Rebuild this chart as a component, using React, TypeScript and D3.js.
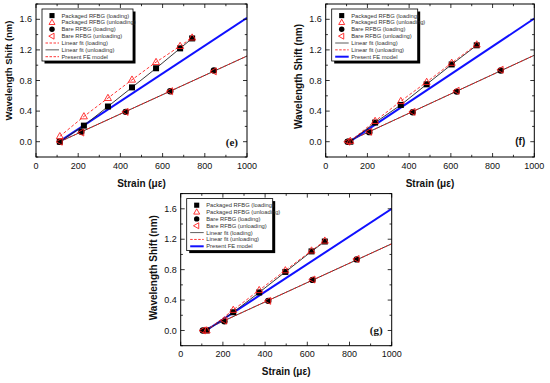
import React from 'react';
import * as d3 from 'd3';

// axis ticks shared by the three panels
const strainTicks = [0, 200, 400, 600, 800, 1000];
const shiftTicks = [0.0, 0.4, 0.8, 1.2, 1.6];

// panel (e)
const eStrainPkg = [113, 227, 341, 455, 569, 683, 740];
const ePkgLoad = [0, 0.21, 0.46, 0.71, 0.96, 1.22, 1.35];
const ePkgUnload = [0.07, 0.33, 0.57, 0.81, 1.04, 1.25, 1.36];
const eStrainBare = [113, 215, 425, 636, 843];
const eBareLoad = [0, 0.13, 0.39, 0.66, 0.93];
const eBareUnload = [0, 0.12, 0.39, 0.66, 0.92];
const eFitStrain = [113, 1000];
const eBareFit = [0, 1.12];
const eFeStrain = [110, 1000];
const eFe = [0, 1.62];

// panel (f)
const fStrainPkg = [118, 237, 360, 484, 604, 724];
const fPkgLoad = [0, 0.25, 0.48, 0.75, 1.01, 1.26];
const fPkgUnload = [0.01, 0.27, 0.53, 0.78, 1.03, 1.27];
const fStrainBare = [105, 209, 417, 628, 839];
const fBareLoad = [0, 0.125, 0.385, 0.655, 0.93];
const fBareUnload = [0, 0.13, 0.39, 0.665, 0.94];
const fFitStrain = [105, 1000];
const fBareFit = [0, 1.13];
const fFeStrain = [115, 1000];
const fFe = [0, 1.61];

// panel (g)
const gStrainPkg = [123, 249, 372, 496, 620, 683];
const gPkgLoad = [0, 0.24, 0.5, 0.77, 1.04, 1.17];
const gPkgUnload = [0, 0.27, 0.53, 0.79, 1.05, 1.18];
const gStrainBare = [105, 207, 415, 625, 834];
const gBareLoad = [0, 0.12, 0.39, 0.665, 0.935];
const gBareUnload = [0, 0.13, 0.39, 0.67, 0.94];
const gFitStrain = [105, 1000];
const gBareFit = [0, 1.14];
const gFeStrain = [120, 1000];
const gFe = [0, 1.6];

const legendNames = [
  'Packaged RFBG (loading)',
  'Packaged RFBG (unloading)',
  'Bare RFBG (loading)',
  'Bare RFBG (unloading)',
  'Linear fit (loading)',
  'Linear fit (unloading)',
  'Present FE model',
];

const SANS = '"Liberation Sans", Arial, sans-serif';
const SERIF = '"Liberation Serif", "Times New Roman", serif';
const RED = '#ff2020';
const BLUE = '#1010ff';

const zip = (xs, ys) => xs.map((v, i) => [v, ys[i]]);

function Marker({ kind, x, y, s = 1 }) {
  if (kind === 'square') {
    const h = 3 * s;
    return <rect x={x - h} y={y - h} width={2 * h} height={2 * h} fill="#000" />;
  }
  if (kind === 'circle') {
    return <circle cx={x} cy={y} r={3.2 * s} fill="#000" />;
  }
  if (kind === 'tri') {
    return <path d={`M${x},${y - 3.8 * s}L${x + 3.5 * s},${y + 2.4 * s}L${x - 3.5 * s},${y + 2.4 * s}Z`} fill="none" stroke={RED} strokeWidth={0.9} />;
  }
  // left pointing triangle
  return <path d={`M${x - 3.8 * s},${y}L${x + 2.4 * s},${y - 3.5 * s}L${x + 2.4 * s},${y + 3.5 * s}Z`} fill="none" stroke={RED} strokeWidth={0.9} />;
}

function LineSample({ style, x1, x2, y }) {
  if (style === 'black') return <line x1={x1} x2={x2} y1={y} y2={y} stroke="#333" strokeWidth={0.8} />;
  if (style === 'red') return <line x1={x1} x2={x2} y1={y} y2={y} stroke={RED} strokeWidth={0.9} strokeDasharray="2.5,1.5" />;
  return <line x1={x1} x2={x2} y1={y} y2={y} stroke={BLUE} strokeWidth={2} />;
}

function Panel({ frame, d, label, labelFont, legendW, legendLines, titleSize, titleShift }) {
  const [x0, x1, y0, y1] = frame;
  const x = d3.scaleLinear().domain([0, 1000]).range([x0, x1]);
  const y = d3.scaleLinear().domain([-0.2, 1.8]).range([y1, y0]);
  const line = d3.line().x(p => x(p[0])).y(p => y(p[1]));

  const minorX = d3.range(0, 1001, 100);
  const minorY = d3.range(-0.2, 1.81, 0.2);

  const pkgLoad = zip(d.strainPkg, d.pkgLoad);
  const pkgUnload = zip(d.strainPkg, d.pkgUnload);
  const bareLoad = zip(d.strainBare, d.bareLoad);
  const bareUnload = zip(d.strainBare, d.bareUnload);
  const bareFit = zip(d.fitStrain, d.bareFit);
  const fe = zip(d.feStrain, d.fe);

  const lx = x0 + 6;
  const ly = y0 + 5;
  const lh = 52;
  const rowY = i => ly + 6.6 + i * 6.85;
  const markers = ['square', 'tri', 'circle', 'ltri'];

  return (
    <g>
      <clipPath id={`clip-${label}`}>
        <rect x={x0} y={y0} width={x1 - x0} height={y1 - y0} />
      </clipPath>

      <g clipPath={`url(#clip-${label})`}>
        {/* bare RFBG fit */}
        <path d={line(bareFit)} fill="none" stroke="#222" strokeWidth={0.9} />
        <path d={line(bareFit)} fill="none" stroke={RED} strokeWidth={0.9} strokeDasharray="3,2" />
        {/* FE model */}
        <path d={line(fe)} fill="none" stroke={BLUE} strokeWidth={2} />
        {/* packaged lines */}
        <path d={line(pkgLoad)} fill="none" stroke="#222" strokeWidth={0.9} />
        <path d={line(pkgUnload)} fill="none" stroke={RED} strokeWidth={0.9} strokeDasharray="3,2" />

        {pkgLoad.map((p, i) => <Marker key={'a' + i} kind="square" x={x(p[0])} y={y(p[1])} />)}
        {bareLoad.map((p, i) => <Marker key={'b' + i} kind="circle" x={x(p[0])} y={y(p[1])} />)}
        {pkgUnload.map((p, i) => <Marker key={'c' + i} kind="tri" x={x(p[0])} y={y(p[1])} />)}
        {bareUnload.map((p, i) => <Marker key={'d' + i} kind="ltri" x={x(p[0])} y={y(p[1])} />)}
      </g>

      {/* frame */}
      <rect x={x0} y={y0} width={x1 - x0} height={y1 - y0} fill="none" stroke="#000" strokeWidth={1} />

      {/* ticks, inward on all sides */}
      {minorX.map(v => {
        const len = strainTicks.includes(v) ? 4 : 2.2;
        return (
          <g key={'tx' + v}>
            <line x1={x(v)} x2={x(v)} y1={y1} y2={y1 - len} stroke="#000" strokeWidth={0.8} />
            <line x1={x(v)} x2={x(v)} y1={y0} y2={y0 + len} stroke="#000" strokeWidth={0.8} />
          </g>
        );
      })}
      {minorY.map(v => {
        const major = shiftTicks.some(t => Math.abs(t - v) < 1e-6);
        const len = major ? 4 : 2.2;
        return (
          <g key={'ty' + v.toFixed(1)}>
            <line x1={x0} x2={x0 + len} y1={y(v)} y2={y(v)} stroke="#000" strokeWidth={0.8} />
            <line x1={x1} x2={x1 - len} y1={y(v)} y2={y(v)} stroke="#000" strokeWidth={0.8} />
          </g>
        );
      })}

      {strainTicks.map(v => (
        <text key={'lx' + v} x={x(v)} y={y1 + 8.5} dy="0.35em" textAnchor="middle" fontFamily={SANS} fontSize={9} fill="#111">
          {v}
        </text>
      ))}
      {shiftTicks.map(v => (
        <text key={'ly' + v} x={x0 - 4} y={y(v)} dy="0.35em" textAnchor="end" fontFamily={SANS} fontSize={9} fill="#111">
          {v.toFixed(1)}
        </text>
      ))}

      <text x={(x0 + x1) / 2} y={y1 + 26} dy="0.35em" textAnchor="middle" fontFamily={SANS} fontSize={10} fontWeight="bold" fill="#111">
        Strain (με)
      </text>
      <text
        transform={`translate(${x0 - 27},${(y0 + y1) / 2 + titleShift}) rotate(-90)`}
        dy="0.35em"
        textAnchor="middle"
        fontFamily={SANS}
        fontSize={titleSize}
        fontWeight="bold"
        fill="#111"
      >
        Wavelength Shift (nm)
      </text>

      <text x={x1 - 9} y={y(0)} dy="0.35em" textAnchor="end" fontFamily={labelFont === 'serif' ? SERIF : SANS} fontSize={labelFont === 'serif' ? 11 : 10} fontWeight="bold" fill="#111">
        ({label})
      </text>

      {/* legend */}
      <rect x={lx + 2.5} y={ly + 2.5} width={legendW} height={lh} fill="#000" />
      <rect x={lx} y={ly} width={legendW} height={lh} fill="#fff" stroke="#000" strokeWidth={0.8} />
      {legendNames.map((name, i) => (
        <g key={name}>
          {i < 4 ? (
            <Marker kind={markers[i]} x={lx + 10} y={rowY(i)} s={0.85} />
          ) : (
            <LineSample style={legendLines[i - 4]} x1={lx + 3.5} x2={lx + 17} y={rowY(i)} />
          )}
          <text x={lx + 19.5} y={rowY(i)} dy="0.35em" fontFamily={SANS} fontSize={5.8} fill="#333">
            {name}
          </text>
        </g>
      ))}
    </g>
  );
}

export default function App() {
  const eData = {
    strainPkg: eStrainPkg, pkgLoad: ePkgLoad, pkgUnload: ePkgUnload,
    strainBare: eStrainBare, bareLoad: eBareLoad, bareUnload: eBareUnload,
    fitStrain: eFitStrain, bareFit: eBareFit, feStrain: eFeStrain, fe: eFe,
  };
  const fData = {
    strainPkg: fStrainPkg, pkgLoad: fPkgLoad, pkgUnload: fPkgUnload,
    strainBare: fStrainBare, bareLoad: fBareLoad, bareUnload: fBareUnload,
    fitStrain: fFitStrain, bareFit: fBareFit, feStrain: fFeStrain, fe: fFe,
  };
  const gData = {
    strainPkg: gStrainPkg, pkgLoad: gPkgLoad, pkgUnload: gPkgUnload,
    strainBare: gStrainBare, bareLoad: gBareLoad, bareUnload: gBareUnload,
    fitStrain: gFitStrain, bareFit: gBareFit, feStrain: gFeStrain, fe: gFe,
  };

  return (
    <div style={{ position: 'fixed', left: 0, top: 0 }}>
      <svg width={550} height={383} style={{ display: 'block', background: '#fff' }}>
        <Panel frame={[36, 247, 4, 157]} d={eData} label="e" labelFont="serif" legendW={91} legendLines={['red', 'black', 'red']} titleSize={9.5} titleShift={-10} />
        <Panel frame={[325.7, 534.3, 4, 157]} d={fData} label="f" labelFont="sans" legendW={86} legendLines={['black', 'red', 'blue']} titleSize={10} titleShift={-4} />
        <Panel frame={[180.7, 391.7, 193.6, 345.7]} d={gData} label="g" labelFont="serif" legendW={86} legendLines={['black', 'red', 'blue']} titleSize={10} titleShift={-2} />
      </svg>
    </div>
  );
}
